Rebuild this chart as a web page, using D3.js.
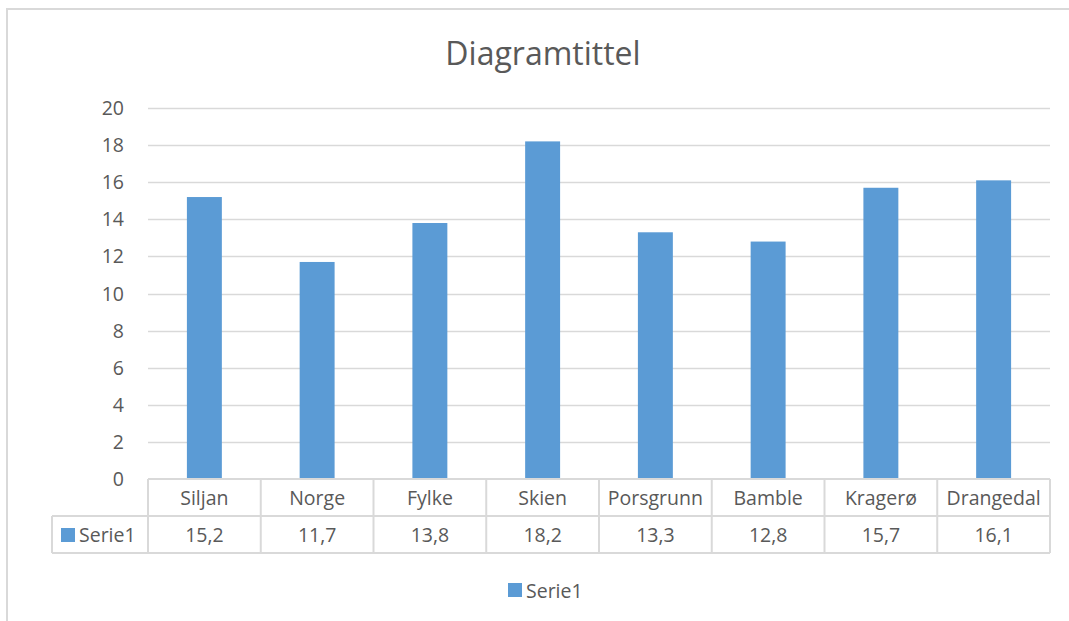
<!DOCTYPE html>
<html><head><meta charset="utf-8">
<script src="https://cdn.jsdelivr.net/npm/d3@7"></script>
<style>body{margin:0;background:#fff}svg{display:block}text{font-family:"Open Sans",sans-serif;fill:#595959}</style>
</head><body>
<svg id="c" width="1069" height="621"></svg>
<script>
const categories = ["Siljan","Norge","Fylke","Skien","Porsgrunn","Bamble","Kragerø","Drangedal"];
const values = [15.2,11.7,13.8,18.2,13.3,12.8,15.7,16.1];
const yTicks = [0,2,4,6,8,10,12,14,16,18,20];
const seriesName = "Serie1";
const title = "Diagramtittel";

const svg = d3.select("#c");
const grid = "#d9d9d9", barColor = "#5B9BD5";
const fs = "19.5px";
// outer border
svg.append("path").attr("d","M7,621 V9 H1069").attr("fill","none").attr("stroke",grid).attr("stroke-width",2);

const L=148,R=1050,T=108,B=479;
const x = d3.scaleBand().domain(categories).range([L,R]).paddingInner(0).paddingOuter(0);
const y = d3.scaleLinear().domain([0,20]).range([B,T]);

svg.append("text").attr("x",543).attr("y",65).attr("text-anchor","middle").style("font-size","32px").text(title);

// gridlines
svg.append("g").selectAll("line").data(yTicks.filter(d=>d>0)).join("line")
  .attr("x1",L).attr("x2",R).attr("y1",d=>Math.round(y(d))+0.5).attr("y2",d=>Math.round(y(d))+0.5)
  .attr("stroke",grid).attr("stroke-width",1.5);
// y labels
svg.append("g").selectAll("text").data(yTicks).join("text")
  .attr("x",124).attr("y",d=>y(d)+7).attr("text-anchor","end").style("font-size",fs).text(d=>d);

// bars
const bw = x.bandwidth()*0.31;
svg.append("g").selectAll("rect").data(values).join("rect")
  .attr("x",(d,i)=>x(categories[i])+x.bandwidth()/2-bw/2).attr("width",bw)
  .attr("y",d=>y(d)).attr("height",d=>y(0)-y(d)).attr("fill",barColor);

// data table
const r1=479,r2=516,r3=553,TL=52;
const tg = svg.append("g").attr("stroke",grid).attr("stroke-width",2).attr("fill","none");
tg.append("line").attr("x1",L).attr("x2",R).attr("y1",r1).attr("y2",r1);
tg.append("line").attr("x1",TL).attr("x2",R).attr("y1",r2).attr("y2",r2);
tg.append("line").attr("x1",TL).attr("x2",R).attr("y1",r3).attr("y2",r3);
tg.append("line").attr("x1",TL).attr("x2",TL).attr("y1",r2).attr("y2",r3);
tg.selectAll(".v").data(categories.concat(["_end"])).join("line")
  .attr("x1",(d,i)=>L+i*x.step()).attr("x2",(d,i)=>L+i*x.step()).attr("y1",r1).attr("y2",r3);

svg.append("g").selectAll("text").data(categories).join("text")
  .attr("x",d=>x(d)+x.bandwidth()/2).attr("y",(r1+r2)/2+7).attr("text-anchor","middle").style("font-size",fs).text(d=>d);
svg.append("g").selectAll("text").data(values).join("text")
  .attr("x",(d,i)=>x(categories[i])+x.bandwidth()/2).attr("y",(r2+r3)/2+7).attr("text-anchor","middle").style("font-size",fs)
  .text(d=>d3.format(".1f")(d).replace(".",","));
svg.append("rect").attr("x",61).attr("y",528).attr("width",14).attr("height",14).attr("fill",barColor);
svg.append("text").attr("x",79).attr("y",(r2+r3)/2+7).style("font-size",fs).text(seriesName);

// legend
svg.append("rect").attr("x",508).attr("y",583).attr("width",14).attr("height",14).attr("fill",barColor);
svg.append("text").attr("x",526).attr("y",598).style("font-size",fs).text(seriesName);
</script>
</body></html>
